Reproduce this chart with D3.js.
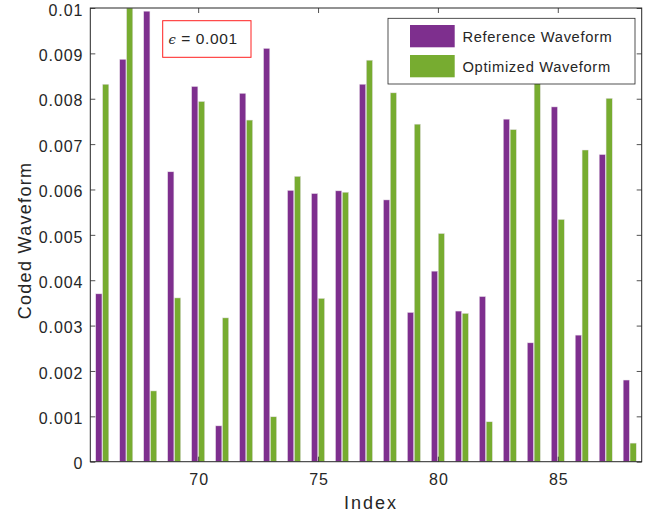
<!DOCTYPE html>
<html>
<head>
<meta charset="utf-8">
<script src="https://cdn.jsdelivr.net/npm/d3@7"></script>
<style>
  body { margin: 0; background: #fff; }
  text { font-family: "Liberation Sans", Arial, Helvetica, sans-serif; fill: #262626; }
</style>
</head>
<body>
<div id="chart"></div>
<script>
// chart values
var indices = d3.range(66, 89);
var referenceWave = [0.00370, 0.00887, 0.00993, 0.00639, 0.00827, 0.00079, 0.00812, 0.00911, 0.00598, 0.00591,
                     0.00597, 0.00832, 0.00577, 0.00329, 0.00420, 0.00332, 0.00364, 0.00755, 0.00262, 0.00782,
                     0.00279, 0.00677, 0.00180];
var optimizedWave = [0.00832, 0.01000, 0.00156, 0.00361, 0.00794, 0.00317, 0.00753, 0.00099, 0.00629, 0.00360,
                     0.00594, 0.00885, 0.00813, 0.00744, 0.00503, 0.00327, 0.00088, 0.00732, 0.00880, 0.00534,
                     0.00687, 0.00801, 0.00041];
var yTicks = [0, 0.001, 0.002, 0.003, 0.004, 0.005, 0.006, 0.007, 0.008, 0.009, 0.01];
var xTicks = [70, 75, 80, 85];
var seriesNames = ["Reference Waveform", "Optimized Waveform"];
var seriesColors = ["#7E2F8E", "#77AC30"];

var width = 653, height = 517;
var margin = {left: 90.3, right: 11.3, top: 8, bottom: 55.3};

var svg = d3.select("#chart").append("svg").attr("width", width).attr("height", height);

var x = d3.scaleLinear().domain([65.5, 88.5]).range([margin.left, width - margin.right]);
var y = d3.scaleLinear().domain([0, 0.01]).range([height - margin.bottom, margin.top]);

var offset = 0.143, bw = 0.26;

svg.append("clipPath").attr("id", "plotclip").append("rect")
    .attr("x", x(65.5)).attr("y", y(0.01)).attr("width", x(88.5) - x(65.5)).attr("height", y(0) - y(0.01));

var bars = svg.append("g").attr("clip-path", "url(#plotclip)");

[referenceWave, optimizedWave].forEach(function(vals, s) {
    var shift = s === 0 ? -offset : offset;
    bars.selectAll("rect.s" + s)
        .data(vals)
        .enter().append("rect")
        .attr("class", "s" + s)
        .attr("x", function(d, i) { return x(indices[i] + shift - bw / 2); })
        .attr("width", x(bw) - x(0))
        .attr("y", function(d) { return y(d); })
        .attr("height", function(d) { return y(0) - y(d); })
        .attr("fill", seriesColors[s])
        .attr("stroke", "#e8e0ea")
        .attr("stroke-width", 0.5);
});

// axes (MATLAB-style box with inward ticks)
var yAxis = d3.axisLeft(y).tickValues(yTicks).tickSize(-5).tickPadding(7)
    .tickFormat(function(d) { return d === 0 ? "0" : d3.format(".3~f")(d); });
var gy = svg.append("g").attr("transform", "translate(" + x(65.5) + ",0)").call(yAxis);
gy.select(".domain").remove();
gy.selectAll("text").style("font-size", "16px").style("letter-spacing", "0.9px").attr("dy", "0.45em");

var gyr = svg.append("g").attr("transform", "translate(" + x(88.5) + ",0)")
    .call(d3.axisRight(y).tickValues(yTicks).tickSize(-5).tickFormat(""));
gyr.select(".domain").remove();

var xAxis = d3.axisBottom(x).tickValues(xTicks).tickSize(-5).tickPadding(12);
var gx = svg.append("g").attr("transform", "translate(0," + y(0) + ")").call(xAxis);
gx.select(".domain").remove();
gx.selectAll("text").style("font-size", "16px").style("letter-spacing", "0.9px").attr("dx", "0.45px");

var gxt = svg.append("g").attr("transform", "translate(0," + y(0.01) + ")")
    .call(d3.axisTop(x).tickValues(xTicks).tickSize(-5).tickFormat(""));
gxt.select(".domain").remove();

svg.selectAll(".tick line").attr("stroke", "#262626").attr("stroke-width", 0.8);

svg.append("rect")
    .attr("x", x(65.5)).attr("y", y(0.01))
    .attr("width", x(88.5) - x(65.5)).attr("height", y(0) - y(0.01))
    .attr("fill", "none").attr("stroke", "#262626").attr("stroke-width", 1);

// axis labels
svg.append("text")
    .attr("x", 371).attr("y", 508.7)
    .attr("text-anchor", "middle").style("font-size", "18px").style("letter-spacing", "2px")
    .text("Index");

svg.append("text")
    .attr("transform", "translate(30.5,240.5) rotate(-90)")
    .attr("text-anchor", "middle").style("font-size", "18px").style("letter-spacing", "1.3px")
    .text("Coded Waveform");

// epsilon annotation
svg.append("rect")
    .attr("x", 162.7).attr("y", 20.7).attr("width", 88.3).attr("height", 36.6)
    .attr("fill", "#fff").attr("stroke", "#ff2020").attr("stroke-width", 1);
var eps = svg.append("text").attr("x", 168.5).attr("y", 44).style("font-size", "15.5px").style("letter-spacing", "0.6px");
eps.append("tspan").style("font-family", "'DejaVu Serif', serif").style("font-style", "italic").style("font-size", "13px").text("\u03F5");
eps.append("tspan").text(" = 0.001");

// legend
var legend = svg.append("g");
legend.append("rect")
    .attr("x", 388).attr("y", 18.3).attr("width", 247).attr("height", 65.7)
    .attr("fill", "#fff").attr("stroke", "#262626").attr("stroke-width", 0.8);
seriesNames.forEach(function(name, i) {
    legend.append("rect")
        .attr("x", 410).attr("y", 25 + i * 30).attr("width", 44.7).attr("height", 22.3)
        .attr("fill", seriesColors[i]);
    legend.append("text")
        .attr("x", 462.5).attr("y", 41.8 + i * 30.5)
        .style("font-size", "14.7px").style("letter-spacing", "0.65px")
        .text(name);
});
</script>
</body>
</html>
